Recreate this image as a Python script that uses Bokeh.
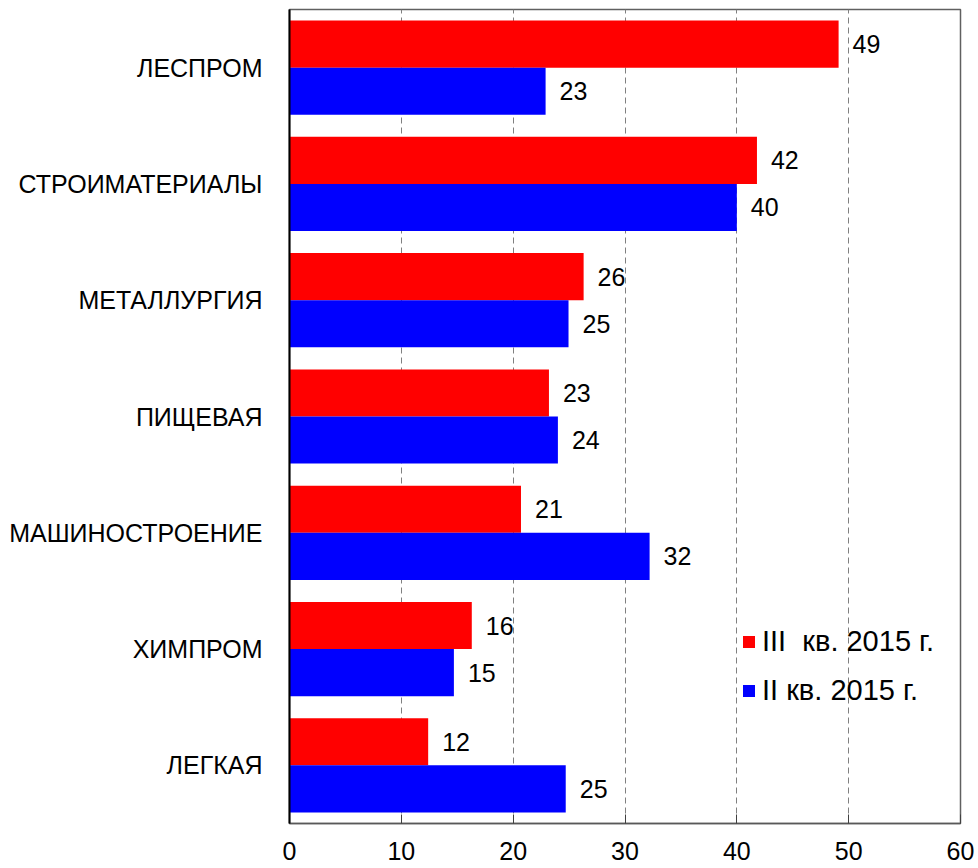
from bokeh.plotting import figure
from bokeh.models import ColumnDataSource, FactorRange, Range1d, Legend, LegendItem, FixedTicker
from bokeh.transform import dodge
from bokeh.core.properties import value
from bokeh.embed import file_html
from bokeh.resources import INLINE

categories = ["ЛЕСПРОМ", "СТРОИМАТЕРИАЛЫ", "МЕТАЛЛУРГИЯ", "ПИЩЕВАЯ",
              "МАШИНОСТРОЕНИЕ", "ХИМПРОМ", "ЛЕГКАЯ"]
q3_2015 = [49.1, 41.8, 26.3, 23.2, 20.7, 16.3, 12.4]
q2_2015 = [22.9, 40.0, 24.95, 24.0, 32.2, 14.7, 24.7]
series_names = ["III  кв. 2015 г.", "II кв. 2015 г."]
x_ticks = [0, 10, 20, 30, 40, 50, 60]

src = ColumnDataSource(dict(
    cat=categories,
    q3=q3_2015,
    q2=q2_2015,
    q3_lbl=[f"{round(v)}" for v in q3_2015],
    q2_lbl=[f"{round(v)}" for v in q2_2015],
))

FONT = "Liberation Sans"

p = figure(
    y_range=FactorRange(factors=list(reversed(categories)), range_padding=0),
    x_range=Range1d(0, 60),
    frame_width=671, frame_height=814,
    width=978, height=868,
    min_border_left=289, min_border_right=18, min_border_top=9, min_border_bottom=45,
    output_backend="svg", toolbar_location=None,
)

bh = 0.405
r1 = p.hbar(y=dodge("cat", bh / 2, range=p.y_range), right="q3", left=0, height=bh,
            source=src, fill_color="#ff0000", line_color=None)
r2 = p.hbar(y=dodge("cat", -bh / 2, range=p.y_range), right="q2", left=0, height=bh,
            source=src, fill_color="#0000ff", line_color=None)

p.text(x="q3", y=dodge("cat", bh / 2, range=p.y_range), text="q3_lbl", source=src,
       x_offset=14, text_baseline="middle", text_align="left",
       text_font=value(FONT), text_font_size="25px", text_color="#000000")
p.text(x="q2", y=dodge("cat", -bh / 2, range=p.y_range), text="q2_lbl", source=src,
       x_offset=14, text_baseline="middle", text_align="left",
       text_font=value(FONT), text_font_size="25px", text_color="#000000")

# axes
p.xaxis.ticker = FixedTicker(ticks=x_ticks)
p.xaxis.minor_tick_line_color = None
p.xaxis.major_tick_in = 9
p.xaxis.major_tick_out = 0
p.xaxis.axis_line_color = "#595959"
p.xaxis.axis_line_width = 1.5
p.xaxis.major_tick_line_color = "#404040"
p.xaxis.major_label_text_font = FONT
p.xaxis.major_label_text_font_size = "25px"
p.xaxis.major_label_text_color = "#000000"
p.xaxis.major_label_standoff = 18

p.yaxis.axis_line_color = "#000000"
p.yaxis.axis_line_width = 2
p.yaxis.major_tick_line_color = None
p.yaxis.minor_tick_line_color = None
p.yaxis.major_label_text_font = FONT
p.yaxis.major_label_text_font_size = "25px"
p.yaxis.major_label_text_color = "#000000"
p.yaxis.major_label_standoff = 21

p.ygrid.grid_line_color = None
p.xgrid.grid_line_color = "#808080"
p.xgrid.grid_line_dash = "6 4"
p.xgrid.grid_line_width = 1

p.outline_line_color = "#606060"
p.outline_line_width = 1.5

legend = Legend(items=[
    LegendItem(label=series_names[0], renderers=[r1]),
    LegendItem(label=series_names[1], renderers=[r2]),
], location=(452, 116))
legend.padding = 0
legend.margin = 0
legend.border_line_color = None
legend.background_fill_alpha = 0
legend.glyph_width = 15
legend.glyph_height = 15
legend.label_standoff = 6
legend.label_height = 34
legend.spacing = 15
legend.label_text_font = FONT
legend.label_text_font_size = "29px"
legend.label_text_color = "#000000"
p.add_layout(legend, "center")

open("out.html", "w").write(file_html(p, INLINE))
